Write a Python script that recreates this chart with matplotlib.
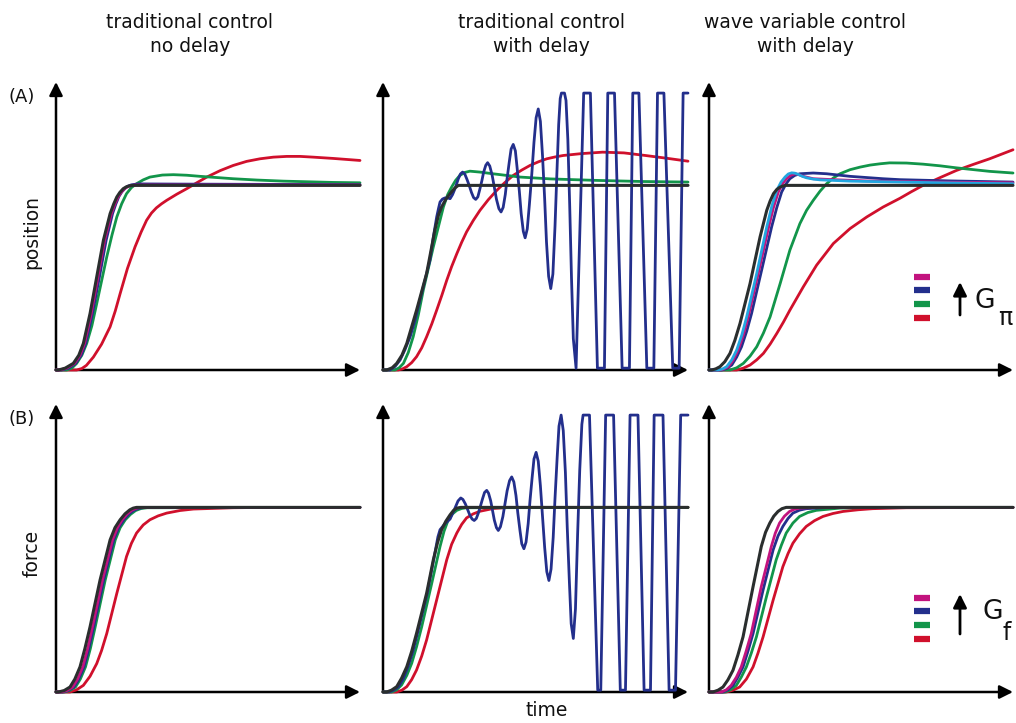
"""Step responses: traditional vs wave variable control, with and without delay."""

import matplotlib
matplotlib.use("Agg")
import matplotlib.pyplot as plt
from matplotlib.lines import Line2D
from matplotlib.patches import FancyArrowPatch

# ---- data: (time, value), steady state = 1 ----
a1_black = [(0, 0), (0.08, 0), (0.3, 0.01), (0.57, 0.036), (0.75, 0.08), (0.90, 0.144),
            (1.12, 0.306), (1.34, 0.505), (1.56, 0.703), (1.78, 0.847), (1.90, 0.90),
            (2.00, 0.937), (2.10, 0.962), (2.21, 0.982), (2.32, 0.993), (2.43, 0.998),
            (2.54, 1.0), (10, 1.0)]
a1_magenta = [(0, 0), (0.12, 0), (0.35, 0.01), (0.61, 0.036), (0.79, 0.08), (0.94, 0.144),
              (1.16, 0.306), (1.38, 0.505), (1.60, 0.703), (1.82, 0.847), (1.94, 0.90),
              (2.04, 0.937), (2.14, 0.962), (2.25, 0.982), (2.36, 0.993), (2.47, 0.999),
              (2.6, 1.002), (10, 1.002)]
a1_blue = [(0, 0), (0.18, 0), (0.42, 0.01), (0.65, 0.036), (0.83, 0.08), (0.98, 0.144),
           (1.20, 0.306), (1.43, 0.505), (1.65, 0.703), (1.86, 0.847), (1.97, 0.90),
           (2.07, 0.94), (2.17, 0.966), (2.28, 0.985), (2.38, 0.997), (2.48, 1.003),
           (2.7, 1.008), (4.0, 1.007), (10, 1.004)]
a1_green = [(0, 0), (0.35, 0), (0.52, 0.01), (0.68, 0.036), (0.85, 0.08), (1.01, 0.144),
            (1.18, 0.24), (1.34, 0.36), (1.67, 0.613), (1.84, 0.73), (2.00, 0.829),
            (2.16, 0.90), (2.32, 0.955), (2.48, 0.988), (2.65, 1.009), (2.87, 1.030),
            (3.09, 1.045), (3.50, 1.056), (3.86, 1.058), (4.3, 1.055), (4.74, 1.049),
            (5.83, 1.036), (6.6, 1.029), (7.48, 1.023), (9.12, 1.016), (10, 1.014)]
a1_red = [(0, 0), (0.68, 0), (0.85, 0.008), (1.0, 0.025), (1.23, 0.07), (1.50, 0.14),
          (1.78, 0.234), (1.95, 0.32), (2.11, 0.414), (2.35, 0.55), (2.60, 0.667),
          (2.80, 0.747), (2.98, 0.811), (3.14, 0.85), (3.30, 0.878), (3.47, 0.900),
          (3.64, 0.919), (3.97, 0.952), (4.30, 0.982), (4.63, 1.014), (4.96, 1.045),
          (5.40, 1.08), (5.83, 1.108), (6.27, 1.13), (6.71, 1.144), (7.15, 1.153),
          (7.59, 1.157), (8.03, 1.157), (8.46, 1.153), (9.12, 1.146), (10, 1.135)]

a2_black = [(0, 0), (0.12, 0), (0.3, 0.012), (0.45, 0.036), (0.62, 0.08), (0.78, 0.144),
            (1.10, 0.324), (1.43, 0.523), (1.70, 0.757), (1.82, 0.84), (1.92, 0.883),
            (2.06, 0.925), (2.20, 0.955), (2.35, 0.985), (2.47, 1.0), (10, 1.0)]
a2_green = [(0, 0), (0.39, 0), (0.53, 0.012), (0.67, 0.036), (0.83, 0.095), (0.99, 0.18),
            (1.16, 0.30), (1.32, 0.432), (1.65, 0.667), (1.98, 0.883), (2.12, 0.95),
            (2.25, 0.991), (2.38, 1.027), (2.52, 1.054), (2.68, 1.070), (2.85, 1.077),
            (3.18, 1.072), (3.6, 1.063), (4.0, 1.055), (4.5, 1.045), (5.5, 1.035),
            (7.0, 1.027), (8.5, 1.021), (10, 1.018)]
a2_red = [(0, 0), (0.50, 0), (0.64, 0.006), (0.78, 0.018), (0.94, 0.04), (1.10, 0.072),
          (1.27, 0.12), (1.43, 0.18), (1.60, 0.25), (1.76, 0.324), (1.93, 0.405),
          (2.09, 0.486), (2.25, 0.56), (2.42, 0.63), (2.58, 0.692), (2.74, 0.748),
          (2.96, 0.81), (3.18, 0.865), (3.45, 0.922), (3.73, 0.973), (4.0, 1.016),
          (4.27, 1.054), (4.55, 1.083), (4.82, 1.108), (5.1, 1.128), (5.37, 1.144),
          (5.64, 1.154), (5.91, 1.162), (6.5, 1.172), (7.2, 1.18), (7.9, 1.176),
          (8.6, 1.162), (9.3, 1.147), (10, 1.131)]
a2_blue = [(0, 0), (0.23, 0), (0.4, 0.02), (0.56, 0.054), (0.72, 0.11), (0.89, 0.18),
           (1.05, 0.27), (1.21, 0.378), (1.38, 0.49), (1.54, 0.595), (1.65, 0.72),
           (1.76, 0.829), (1.82, 0.875), (1.87, 0.91), (1.95, 0.926), (2.03, 0.932),
           (2.12, 0.932), (2.20, 0.928), (2.28, 0.95), (2.36, 0.982), (2.47, 1.036),
           (2.54, 1.062), (2.61, 1.072),
           (2.68, 1.062), (2.75, 1.034), (2.83, 0.998), (2.90, 0.962), (2.97, 0.934), (3.04, 0.924),
           (3.11, 0.938), (3.17, 0.976), (3.24, 1.024), (3.30, 1.072), (3.37, 1.109), (3.43, 1.123),
           (3.50, 1.105), (3.58, 1.054), (3.65, 0.99), (3.72, 0.925), (3.80, 0.874), (3.87, 0.856),
           (3.94, 0.881), (4.01, 0.951), (4.07, 1.039), (4.14, 1.127), (4.20, 1.197), (4.27, 1.222),
           (4.34, 1.187), (4.40, 1.09), (4.47, 0.969), (4.53, 0.848), (4.60, 0.751), (4.66, 0.716),
           (4.73, 0.764), (4.80, 0.897), (4.88, 1.065), (4.95, 1.233), (5.02, 1.366), (5.09, 1.414),
           (5.16, 1.347), (5.23, 1.161), (5.30, 0.928), (5.36, 0.694), (5.43, 0.508), (5.50, 0.441),
           (5.57, 0.52), (5.64, 0.78), (5.70, 1.06), (5.76, 1.33), (5.81, 1.47), (5.85, 1.50),
           (5.95, 1.50), (6.00, 1.46), (6.06, 1.25), (6.12, 0.9), (6.18, 0.5), (6.24, 0.17),
           (6.33, 0.01), (6.58, 1.5), (6.80, 1.5), (7.03, 0.01), (7.26, 0.01), (7.37, 1.5),
           (7.59, 1.5), (7.84, 0.01), (8.08, 0.01), (8.19, 1.5), (8.39, 1.5), (8.65, 0.01),
           (8.88, 0.01), (9.00, 1.5), (9.21, 1.5), (9.50, 0.01), (9.71, 0.01), (9.84, 1.5),
           (10.0, 1.5)]

a3_black = [(0, 0), (0.09, 0), (0.22, 0.006), (0.36, 0.018), (0.52, 0.045), (0.69, 0.09),
            (0.85, 0.16), (1.02, 0.252), (1.35, 0.468), (1.68, 0.721), (1.80, 0.80),
            (1.90, 0.865), (2.01, 0.915), (2.12, 0.955), (2.23, 0.978), (2.34, 0.991),
            (2.50, 1.0), (10, 1.0)]
a3_cyan = [(0, 0), (0.31, 0), (0.45, 0.006), (0.58, 0.018), (0.75, 0.055), (0.91, 0.108),
           (1.08, 0.19), (1.24, 0.288), (1.57, 0.523), (1.90, 0.775), (2.07, 0.89),
           (2.23, 0.973), (2.37, 1.018), (2.50, 1.045), (2.61, 1.062), (2.72, 1.068),
           (2.83, 1.066), (2.94, 1.059), (3.07, 1.049), (3.21, 1.041), (3.43, 1.034),
           (3.65, 1.030), (4.64, 1.023), (6.28, 1.018), (8.0, 1.013), (10, 1.009)]
a3_magenta = [(0, 0), (0.36, 0), (0.50, 0.006), (0.64, 0.018), (0.80, 0.055), (0.96, 0.108),
              (1.13, 0.19), (1.29, 0.288), (1.62, 0.523), (1.95, 0.766), (2.12, 0.88),
              (2.28, 0.964), (2.42, 1.01), (2.55, 1.036), (2.69, 1.055), (2.83, 1.063),
              (2.96, 1.058), (3.10, 1.049), (3.43, 1.036), (4.09, 1.031), (5.19, 1.024),
              (6.28, 1.021), (8.0, 1.017), (10, 1.014)]
a3_blue = [(0, 0), (0.42, 0), (0.58, 0.008), (0.75, 0.027), (0.91, 0.07), (1.07, 0.126),
           (1.24, 0.21), (1.40, 0.306), (1.73, 0.54), (2.06, 0.775), (2.23, 0.88),
           (2.39, 0.964), (2.53, 1.007), (2.66, 1.036), (2.82, 1.054), (2.99, 1.063),
           (3.43, 1.067), (3.87, 1.063), (4.64, 1.049), (5.73, 1.036), (6.28, 1.031),
           (8.0, 1.024), (10, 1.018)]
a3_green = [(0, 0), (0.69, 0), (0.91, 0.012), (1.13, 0.036), (1.35, 0.075), (1.57, 0.126),
            (1.79, 0.2), (2.01, 0.288), (2.34, 0.468), (2.66, 0.649), (2.99, 0.793),
            (3.21, 0.865), (3.43, 0.919), (3.65, 0.968), (3.87, 1.009), (4.09, 1.04),
            (4.31, 1.063), (4.64, 1.085), (4.97, 1.099), (5.30, 1.110), (5.63, 1.117),
            (5.94, 1.122), (6.5, 1.121), (7.04, 1.115), (7.6, 1.106), (8.14, 1.095),
            (9.23, 1.076), (10, 1.067)]
a3_red = [(0, 0), (0.91, 0), (1.13, 0.01), (1.35, 0.027), (1.57, 0.055), (1.79, 0.09),
          (2.01, 0.14), (2.23, 0.198), (2.45, 0.26), (2.66, 0.324), (3.10, 0.45),
          (3.54, 0.568), (4.09, 0.685), (4.64, 0.766), (5.19, 0.829), (5.73, 0.883),
          (6.28, 0.93), (6.66, 0.966), (7.04, 1.0), (7.6, 1.042), (8.14, 1.081),
          (8.7, 1.114), (9.23, 1.144), (10, 1.193)]

b1_black = [(0, 0), (0.08, 0), (0.27, 0.008), (0.46, 0.027), (0.62, 0.07), (0.79, 0.136),
            (0.95, 0.235), (1.12, 0.353), (1.45, 0.607), (1.78, 0.824), (1.94, 0.89),
            (2.11, 0.933), (2.27, 0.965), (2.43, 0.987), (2.54, 0.996), (2.65, 1.0), (10, 1.0)]
b1_magenta = [(0, 0), (0.18, 0), (0.36, 0.008), (0.55, 0.027), (0.71, 0.07), (0.88, 0.136),
              (1.04, 0.235), (1.20, 0.353), (1.53, 0.607), (1.86, 0.824), (2.02, 0.89),
              (2.18, 0.933), (2.34, 0.964), (2.50, 0.985), (2.65, 0.996), (2.80, 1.0), (10, 1.0)]
b1_blue = [(0, 0), (0.22, 0), (0.40, 0.008), (0.59, 0.027), (0.75, 0.07), (0.92, 0.136),
           (1.08, 0.235), (1.24, 0.353), (1.57, 0.607), (1.90, 0.824), (2.06, 0.89),
           (2.23, 0.933), (2.39, 0.963), (2.56, 0.984), (2.73, 0.995), (2.90, 0.999), (10, 1.0)]
b1_green = [(0, 0), (0.27, 0), (0.45, 0.008), (0.64, 0.027), (0.80, 0.07), (0.97, 0.136),
            (1.13, 0.235), (1.29, 0.353), (1.62, 0.607), (1.95, 0.824), (2.11, 0.89),
            (2.28, 0.933), (2.45, 0.962), (2.62, 0.983), (2.80, 0.994), (3.0, 0.998), (10, 1.0)]
b1_red = [(0, 0), (0.46, 0), (0.68, 0.012), (0.90, 0.036), (1.12, 0.085), (1.34, 0.154),
          (1.50, 0.225), (1.67, 0.317), (2.00, 0.534), (2.32, 0.734), (2.48, 0.805),
          (2.65, 0.861), (2.87, 0.905), (3.09, 0.933), (3.36, 0.954), (3.64, 0.969),
          (4.08, 0.983), (4.52, 0.991), (5.83, 0.998), (6.93, 1.0)]

b2_black = [(0, 0), (0.12, 0), (0.28, 0.01), (0.45, 0.029), (0.61, 0.075), (0.78, 0.137),
            (0.94, 0.22), (1.10, 0.318), (1.43, 0.535), (1.65, 0.716), (1.79, 0.81),
            (1.92, 0.879), (2.06, 0.925), (2.20, 0.96), (2.31, 0.983), (2.42, 0.996),
            (2.55, 1.0), (10, 1.0)]
b2_green = [(0, 0), (0.28, 0), (0.45, 0.012), (0.61, 0.038), (0.78, 0.09), (0.94, 0.155),
            (1.10, 0.245), (1.27, 0.354), (1.60, 0.59), (1.87, 0.788), (2.00, 0.87),
            (2.14, 0.933), (2.28, 0.965), (2.42, 0.984), (2.58, 0.994), (2.74, 0.998), (10, 1.0)]
b2_red = [(0, 0), (0.45, 0), (0.62, 0.01), (0.78, 0.029), (0.94, 0.067), (1.10, 0.119),
          (1.27, 0.195), (1.43, 0.282), (1.76, 0.499), (2.09, 0.716), (2.25, 0.80),
          (2.42, 0.861), (2.58, 0.908), (2.74, 0.943), (2.96, 0.965), (3.18, 0.979),
          (3.62, 0.994), (4.16, 1.0), (10, 1.0)]
b2_blue = [(0, 0), (0.2, 0), (0.35, 0.01), (0.5, 0.027), (0.66, 0.07), (0.82, 0.137),
           (0.98, 0.22), (1.13, 0.318), (1.45, 0.535), (1.66, 0.716), (1.80, 0.84),
           (1.87, 0.879), (2.03, 0.911), (2.20, 0.937), (2.36, 0.996), (2.46, 1.035),
           (2.55, 1.051),
           (2.62, 1.043), (2.70, 1.019), (2.77, 0.99), (2.84, 0.961), (2.92, 0.937), (2.99, 0.929),
           (3.06, 0.94), (3.13, 0.971), (3.20, 1.01), (3.27, 1.05), (3.33, 1.081), (3.40, 1.092),
           (3.46, 1.077), (3.53, 1.036), (3.59, 0.984), (3.65, 0.931), (3.72, 0.89), (3.78, 0.875),
           (3.85, 0.895), (3.93, 0.95), (4.00, 1.02), (4.07, 1.09), (4.15, 1.145), (4.22, 1.165),
           (4.29, 1.138), (4.36, 1.064), (4.42, 0.97), (4.49, 0.876), (4.55, 0.803), (4.62, 0.776),
           (4.69, 0.812), (4.76, 0.912), (4.82, 1.037), (4.89, 1.162), (4.95, 1.262), (5.02, 1.298),
           (5.09, 1.25), (5.16, 1.118), (5.23, 0.951), (5.30, 0.784), (5.37, 0.652), (5.44, 0.604),
           (5.51, 0.666), (5.58, 0.837), (5.64, 1.05), (5.71, 1.27), (5.77, 1.44), (5.84, 1.5),
           (5.91, 1.416), (5.98, 1.19), (6.04, 0.895), (6.11, 0.6), (6.17, 0.37), (6.24, 0.29),
           (6.31, 0.45), (6.38, 0.85), (6.45, 1.2), (6.52, 1.45), (6.56, 1.5), (6.77, 1.5),
           (7.04, 0.01), (7.14, 0.01), (7.30, 1.5), (7.56, 1.5), (7.78, 0.01), (7.95, 0.01),
           (8.10, 1.5), (8.36, 1.5), (8.56, 0.01), (8.77, 0.01), (8.89, 1.5), (9.18, 1.5),
           (9.38, 0.01), (9.59, 0.01), (9.76, 1.5), (10.0, 1.5)]

b3_black = [(0, 0), (0.13, 0), (0.30, 0.01), (0.46, 0.027), (0.62, 0.065), (0.79, 0.118),
            (0.95, 0.2), (1.12, 0.299), (1.45, 0.571), (1.72, 0.788), (1.86, 0.865),
            (2.00, 0.915), (2.13, 0.952), (2.27, 0.978), (2.40, 0.993), (2.54, 1.0), (10, 1.0)]
b3_magenta = [(0, 0), (0.41, 0), (0.57, 0.012), (0.73, 0.036), (0.90, 0.08), (1.06, 0.136),
              (1.22, 0.22), (1.39, 0.317), (1.72, 0.571), (2.05, 0.788), (2.18, 0.86),
              (2.32, 0.915), (2.48, 0.952), (2.65, 0.978), (2.81, 0.99), (2.98, 0.996),
              (3.53, 1.0), (10, 1.0)]
b3_blue = [(0, 0), (0.46, 0), (0.62, 0.012), (0.79, 0.036), (0.95, 0.08), (1.12, 0.136),
           (1.28, 0.22), (1.45, 0.317), (1.78, 0.553), (2.11, 0.77), (2.27, 0.845),
           (2.43, 0.897), (2.60, 0.94), (2.76, 0.969), (2.98, 0.985), (3.20, 0.993),
           (3.97, 1.0), (10, 1.0)]
b3_green = [(0, 0), (0.52, 0), (0.71, 0.012), (0.90, 0.036), (1.06, 0.08), (1.23, 0.136),
            (1.39, 0.21), (1.56, 0.299), (1.89, 0.516), (2.21, 0.716), (2.38, 0.795),
            (2.54, 0.861), (2.76, 0.915), (2.98, 0.951), (3.25, 0.972), (3.53, 0.984),
            (4.30, 0.996), (5.39, 1.0), (10, 1.0)]
b3_red = [(0, 0), (0.57, 0), (0.79, 0.01), (1.01, 0.027), (1.23, 0.07), (1.45, 0.136),
          (1.61, 0.21), (1.78, 0.299), (2.11, 0.498), (2.43, 0.679), (2.60, 0.75),
          (2.76, 0.806), (2.98, 0.857), (3.20, 0.897), (3.47, 0.928), (3.75, 0.951),
          (4.08, 0.967), (4.41, 0.978), (4.90, 0.987), (5.39, 0.993), (6.49, 0.998), (10, 1.0)]

col_titles = [("traditional control", "no delay"),
              ("traditional control", "with delay"),
              ("wave variable control", "with delay")]
row_labels = ["position", "force"]
panel_tags = ["(A)", "(B)"]
legend_order = ["magenta", "blue", "green", "red"]

COLORS = {
    "black": "#2a2e2e",
    "blue": "#232f8c",
    "green": "#12954a",
    "red": "#d0102c",
    "magenta": "#c2137e",
    "cyan": "#22a6e0",
}
DRAW_ORDER = ["red", "green", "blue", "magenta", "cyan", "black"]

W, H = 1016, 723
fig = plt.figure(figsize=(W / 100, H / 100), dpi=100)
fig.patch.set_facecolor("white")


def px_axes(left, right, bottom, top):
    return fig.add_axes([left / W, (H - bottom) / H, (right - left) / W, (bottom - top) / H])


def draw_panel(ax, curves):
    ax.set_xlim(0, 10)
    ax.set_ylim(0, 1.56)
    ax.axis("off")
    # axis arrows underneath the curves
    for tip in [(1, 0), (0, 1)]:
        ax.annotate("", xy=tip, xytext=(0, 0), xycoords="axes fraction", zorder=1,
                    arrowprops=dict(arrowstyle="-|>", lw=1.8, color="black",
                                    mutation_scale=20, shrinkA=0, shrinkB=0))
    for name in DRAW_ORDER:
        if name not in curves:
            continue
        t, v = zip(*curves[name])
        lw = 2.2 if name == "black" else 2.0
        ax.plot(t, v, color=COLORS[name], lw=lw, solid_joinstyle="round",
                solid_capstyle="round", clip_on=False, zorder=3)


panels = [
    (56, 360, 370, 82, {"red": a1_red, "green": a1_green, "blue": a1_blue,
                        "magenta": a1_magenta, "black": a1_black}),
    (383, 688, 370, 82, {"red": a2_red, "green": a2_green, "blue": a2_blue,
                         "black": a2_black}),
    (709, 1013, 370, 82, {"red": a3_red, "green": a3_green, "blue": a3_blue,
                          "magenta": a3_magenta, "cyan": a3_cyan, "black": a3_black}),
    (56, 360, 692, 404, {"red": b1_red, "green": b1_green, "blue": b1_blue,
                         "magenta": b1_magenta, "black": b1_black}),
    (383, 688, 692, 404, {"red": b2_red, "green": b2_green, "blue": b2_blue,
                          "black": b2_black}),
    (709, 1013, 692, 404, {"red": b3_red, "green": b3_green, "blue": b3_blue,
                           "magenta": b3_magenta, "black": b3_black}),
]
for left, right, bottom, top, curves in panels:
    draw_panel(px_axes(left, right, bottom, top), curves)


def ftext(x, y, s, **kw):
    kw.setdefault("ha", "center")
    kw.setdefault("va", "center")
    kw.setdefault("fontsize", 13.5)
    fig.text(x / W, 1 - y / H, s, color="#111111", **kw)


# column titles
for cx, (line1, line2) in zip([190, 541, 805], col_titles):
    ftext(cx, 22, line1)
    ftext(cx, 47, line2)

for cy, label in zip([232, 553], row_labels):
    ftext(32, cy, label, rotation=90)
for cy, tag in zip([97, 419], panel_tags):
    ftext(22, cy, tag, fontsize=13)
ftext(547, 710, "time")

# gain legends in the right-hand panels
for bar_ys, arrow_y, g_pos, sub_pos, sub in [
        ([277, 290, 304, 318], (315, 282), (985, 301), (1005, 318), "π"),
        ([598, 611, 625, 639], (634, 594), (993, 612), (1007, 633), "f")]:
    for by, name in zip(bar_ys, legend_order):
        fig.add_artist(Line2D([914 / W, 930 / W], [1 - by / H] * 2,
                              transform=fig.transFigure, color=COLORS[name],
                              lw=4.5, solid_capstyle="butt"))
    fig.add_artist(FancyArrowPatch((960 / W, 1 - arrow_y[0] / H), (960 / W, 1 - arrow_y[1] / H),
                                   transform=fig.transFigure, arrowstyle="-|>",
                                   mutation_scale=20, lw=2, color="black",
                                   shrinkA=0, shrinkB=0))
    ftext(g_pos[0], g_pos[1], "G", fontsize=19)
    ftext(sub_pos[0], sub_pos[1], sub, fontsize=17)

fig.savefig("out.png", dpi=100, facecolor="white")
